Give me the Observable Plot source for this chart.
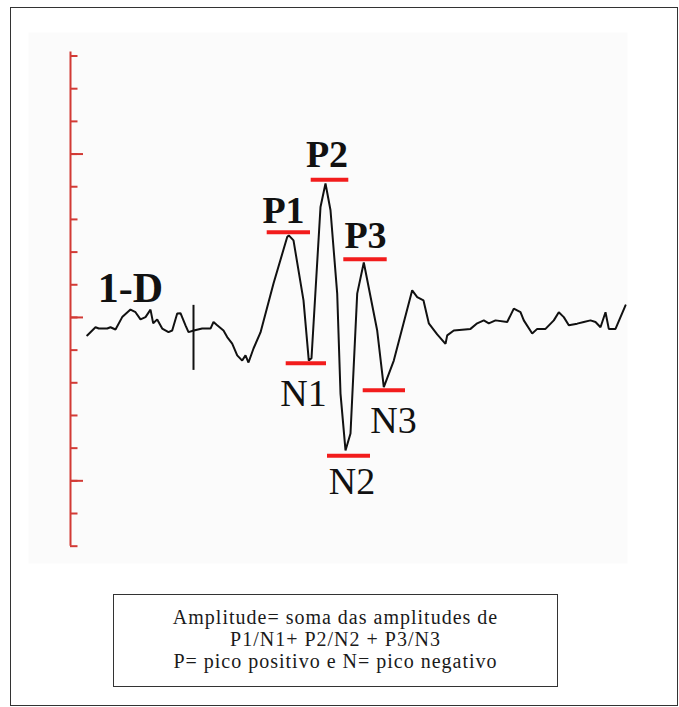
<!DOCTYPE html>
<html>
<head>
<meta charset="utf-8">
<script src="https://cdn.jsdelivr.net/npm/d3@7"></script>
<script src="https://cdn.jsdelivr.net/npm/@observablehq/plot@0.6"></script>
<style>
  body { margin: 0; background: #fff; }
  #page { position: relative; width: 679px; height: 707px; overflow: hidden; }
  #border { position: absolute; left: 10px; top: 7px; width: 668px; height: 699px; border: 1.5px solid #333; box-sizing: border-box; }
  #chart { position: absolute; left: 0; top: 0; }
  #caption { position: absolute; left: 113px; top: 594px; width: 445px; height: 93px; border: 1.5px solid #333; box-sizing: border-box;
    font-family: "Liberation Serif", serif; font-size: 20px; letter-spacing: 1px; line-height: 22px; text-align: center; padding-top: 11px; color: #1a1a1a; }
</style>
</head>
<body>
<div id="page">
  <div id="border"></div>
  <div id="chart"></div>
  <div id="caption"></div>
</div>
<script>
// Waveform samples: time (ms, 0 = stimulus marker) and amplitude (axis units)
const waveT = [-10.63, -9.8, -9.47, -8.63, -8.3, -7.8, -7.13, -6.3, -5.8, -5.3, -4.8, -4.3, -4.03, -3.63, -3.13, -2.5, -2.13, -1.63, -1.3, -0.8, -0.5, 0.03, 0.87, 1.7, 2.0, 2.37, 3.0, 3.37, 3.87, 4.37, 4.87, 5.2, 5.5, 6.0, 6.7, 8.0, 9.37, 9.53, 10.0, 11.0, 11.53, 11.8, 12.7, 13.2, 13.7, 14.37, 14.7, 15.2, 15.7, 16.37, 17.03, 18.37, 19.03, 20.03, 21.87, 22.37, 23.0, 23.53, 24.37, 25.2, 25.37, 26.03, 27.7, 28.37, 29.03, 29.53, 30.2, 31.37, 32.03, 32.7, 33.03, 33.87, 34.37, 35.2, 36.03, 36.53, 37.03, 37.53, 38.37, 39.03, 39.7, 40.2, 40.7, 41.2, 41.53, 42.2, 42.7, 43.2];
const waveV = [-0.55, -0.30, -0.34, -0.34, -0.30, -0.37, 0.01, 0.24, 0.16, -0.06, 0.01, 0.24, -0.18, -0.06, -0.34, -0.45, -0.40, 0.12, 0.13, -0.24, -0.45, -0.40, -0.34, -0.34, -0.14, -0.24, -0.40, -0.60, -0.80, -1.16, -1.32, -1.16, -1.38, -0.95, -0.46, 1.04, 2.46, 2.51, 2.36, 0.52, -1.32, -1.25, 3.38, 4.10, 3.28, 0.73, -2.33, -4.07, -3.55, 0.73, 1.68, -0.40, -2.13, -1.32, 0.83, 0.62, 0.52, -0.18, -0.52, -0.81, -0.55, -0.40, -0.35, -0.18, -0.09, -0.18, -0.09, -0.14, 0.27, 0.16, -0.09, -0.49, -0.35, -0.35, -0.09, 0.16, 0.01, -0.24, -0.19, -0.14, -0.09, -0.14, -0.30, 0.16, -0.35, -0.35, 0.01, 0.37];

// Peak markers
const peakNames = ["P1", "N1", "P2", "N2", "P3", "N3"];
const peakBold = [true, false, true, false, true, false];
const barStart = [7.37, 9.27, 11.77, 13.4, 15.03, 16.97];
const barEnd = [11.7, 13.3, 15.53, 17.7, 19.37, 21.2];
const barLevel = [2.61, -1.40, 4.21, -4.23, 1.78, -2.23];
const labelT = [9.0, 11.0, 13.35, 15.85, 17.2, 20.0];
const labelV = [2.88, -2.72, 4.59, -5.39, 2.11, -3.55];

// Channel label and stimulus marker
const channelName = ["1-D"];
const channelT = [-6.3];
const channelV = [0.46];
const markerT = [0];
const markerLow = [-1.62];
const markerHigh = [0.37];

// Vertical scale ticks
const yTicks = [-7, -6, -5, -4, -3, -2, -1, 0, 1, 2, 3, 4, 5, 6, 7, 8];
const yMajorTicks = [-5, 0, 5];

// Caption lines
const captionLines = [
  "Amplitude= soma das amplitudes de",
  "P1/N1+ P2/N2 + P3/N3",
  "P= pico positivo e N= pico negativo"
];

const wave = waveT.map((t, i) => ({t, v: waveV[i]}));
const bars = peakNames.map((n, i) => ({name: n, t1: barStart[i], t2: barEnd[i], v: barLevel[i]}));
const labels = peakNames.map((n, i) => ({name: n, t: labelT[i], v: labelV[i], bold: peakBold[i]}));
const channel = channelName.map((n, i) => ({name: n, t: channelT[i], v: channelV[i]}));
const marker = markerT.map((t, i) => ({t, lo: markerLow[i], hi: markerHigh[i]}));

const AXIS_T = -12.3;
const AXIS_RED = "#d23a35";
const BAR_RED = "#f21c1c";
const serif = "Liberation Serif";

const plot = Plot.plot({
  width: 679,
  height: 580,
  marginLeft: 28,
  marginRight: 52,
  marginTop: 32,
  marginBottom: 17,
  x: {domain: [-16.5, 43.4], axis: null},
  y: {domain: [-7.53, 8.72], axis: null},
  marks: [
    Plot.frame({fill: "#fbfbfb", stroke: null}),
    Plot.ruleX([AXIS_T], {y1: -7, y2: 8.12, stroke: AXIS_RED, strokeWidth: 2}),
    Plot.ruleY(yTicks, {y: d => d, x1: AXIS_T, x2: AXIS_T + 0.75, stroke: AXIS_RED, strokeWidth: 2}),
    Plot.ruleY(yMajorTicks, {y: d => d, x1: AXIS_T, x2: AXIS_T + 1.3, stroke: AXIS_RED, strokeWidth: 2}),
    Plot.ruleX(marker, {x: "t", y1: "lo", y2: "hi", stroke: "#111", strokeWidth: 2}),
    Plot.line(wave, {x: "t", y: "v", stroke: "#111", strokeWidth: 2, strokeLinejoin: "miter"}),
    Plot.ruleY(bars, {x1: "t1", x2: "t2", y: "v", stroke: BAR_RED, strokeWidth: 4}),
    Plot.text(labels.filter(d => d.bold), {x: "t", y: "v", text: "name", lineAnchor: "bottom", fontFamily: serif, fontWeight: "bold", fontSize: 38, fill: "#111"}),
    Plot.text(labels.filter(d => !d.bold), {x: "t", y: "v", text: "name", lineAnchor: "bottom", fontFamily: serif, fontSize: 38, fill: "#111"}),
    Plot.text(channel, {x: "t", y: "v", text: "name", lineAnchor: "bottom", fontFamily: serif, fontWeight: "bold", fontSize: 42, fill: "#111"})
  ]
});
document.getElementById("chart").appendChild(plot);
document.getElementById("caption").innerHTML = captionLines.map(l => `<div>${l}</div>`).join("");
</script>
</body>
</html>
